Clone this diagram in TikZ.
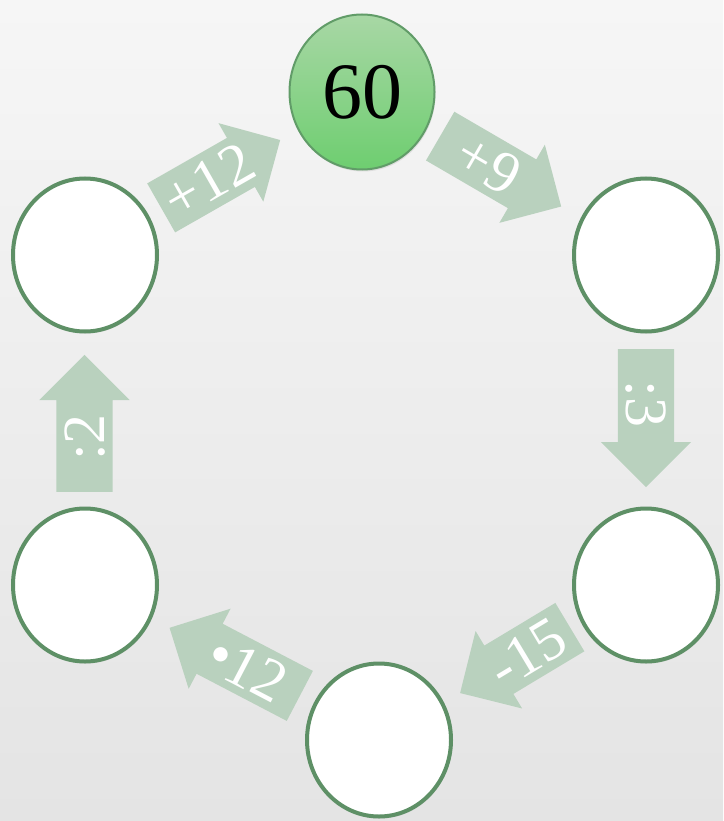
\documentclass[tikz,border=0pt]{standalone}
\usepackage{fontspec}
\setmainfont{Liberation Serif}
\usetikzlibrary{shapes.geometric,shapes.arrows,shadows}
\definecolor{leaf}{HTML}{5E9066}
\definecolor{sage}{HTML}{B9D1BE}
\definecolor{mint}{HTML}{A8D7A5}
\definecolor{lime}{HTML}{6ECE70}
\definecolor{paper}{HTML}{F6F6F6}
\definecolor{dust}{HTML}{E4E4E4}
\tikzset{
  ring/.style = {ellipse, draw=leaf, line width=4pt, fill=white,
                 minimum width=144pt, minimum height=153pt,
                 drop shadow={opacity=0.18, shadow xshift=1pt, shadow yshift=-2pt}},
  seed/.style = {ring, draw=leaf!80!lime, line width=2pt,
                 minimum width=145pt, minimum height=155pt,
                 top color=mint, bottom color=lime,
                 font=\fontsize{80}{82}\selectfont},
  op/.style   = {single arrow, fill=sage, draw=none, text=white,
                 single arrow head extend=17pt, single arrow tip angle=90,
                 inner xsep=4pt, inner ysep=8pt, text height=40pt, text depth=0pt,
                 minimum width=0pt, anchor=tail,
                 font=\fontsize{60}{62}\selectfont},
}

\begin{document}
\begin{tikzpicture}[x=1pt, y=1pt]

% ---------------- paper -----------------------------------------------
\shade[top color=paper, bottom color=dust] (0,0) rectangle (723,-821);
\useasboundingbox (0,0) rectangle (723,-821);

% ---------------- the six numbers -------------------------------------
\node[seed] (c0) at (362,-92) {60};
\node[ring] (c1) at (646,-255) {};
\node[ring] (c2) at (646,-585) {};
\node[ring] (c3) at (379,-740) {};
\node[ring] (c4) at (85,-585) {};
\node[ring] (c5) at (85,-255) {};

% ---------------- the steps round the ring ----------------------------
\node[op, minimum height=140pt, rotate=-30.2] (a1) at (440,-136) {+9};
\node[op, minimum height=138pt, rotate=-90] (a2) at (646,-349) {:3};
\node[op, minimum height=128pt, rotate=31, shape border rotate=180] (a3) at (570,-627) {-15};
\node[op, minimum height=147pt, rotate=-27.6, shape border rotate=180] (a4) at (300,-696) {•12};
\node[op, minimum height=137pt, rotate=90] (a5) at (84.5,-492) {:2};
\node[op, minimum height=137pt, rotate=29.7] (a6) at (161,-208) {+12};

\end{tikzpicture}
\end{document}
